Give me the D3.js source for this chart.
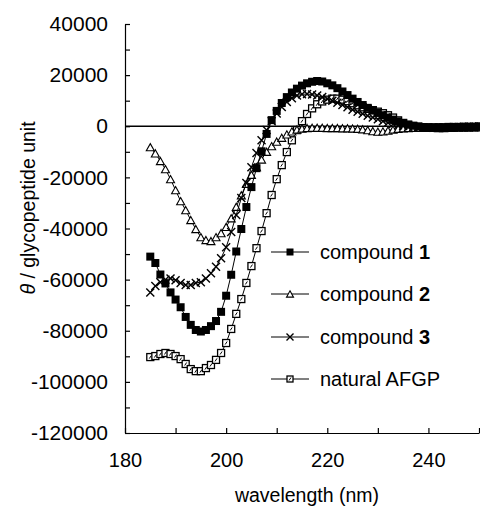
<html>
<head>
<style>
  body { margin: 0; background: #fff; }
  text { font-family: "Liberation Sans", Arial, Helvetica, sans-serif; fill: #000; }
</style>
</head>
<body>
<svg id="chart" width="480" height="506"></svg>
<script src="https://cdn.jsdelivr.net/npm/d3@7"></script>
<script>
// wavelengths (nm), one reading every 1 nm
const wavelength = [185,186,187,188,189,190,191,192,193,194,195,196,197,198,199,200,
  201,202,203,204,205,206,207,208,209,210,211,212,213,214,215,216,217,218,219,220,
  221,222,223,224,225,226,227,228,229,230,231,232,233,234,235,236,237,238,239,240,
  241,242,243,244,245,246,247,248,249,250]

const compound1 = [-51000,-53500,-58000,-61500,-65000,-67800,-70800,-74600,-77700,-79700,
  -80300,-79700,-78200,-76200,-72600,-66300,-58100,-49000,-40200,-31600,
  -23800,-16400,-9800,-3000,2400,6000,9100,11400,13200,14700,
  15900,16800,17400,17700,17500,16800,16000,14900,13600,12200,
  10800,9500,8300,7200,6200,5200,4300,3400,2600,1900,
  1200,600,200,-100,-300,-400,-500,-600,-600,-500,
  -500,-400,-400,-300,-300,-200]

const compound2 = [-8200,-10600,-13600,-16800,-20700,-25000,-29300,-32800,-36700,-40200,
  -43400,-44500,-44900,-43400,-41800,-39400,-36000,-31500,-27000,-22500,
  -19000,-16000,-13000,-10000,-7800,-6000,-4500,-3200,-2000,-1300,
  -900,-700,-600,-600,-600,-700,-700,-700,-800,-800,
  -900,-1000,-1200,-1500,-1900,-2100,-2000,-1700,-1300,-1000,
  -800,-700,-600,-600,-600,-600,-600,-700,-700,-600,
  -600,-500,-500,-500,-400,-400]

const compound3 = [-65000,-62500,-61000,-60000,-59600,-60200,-61300,-62100,-62100,-61300,
  -61000,-59600,-57500,-55000,-51600,-47300,-41400,-34700,-28100,-22200,
  -16000,-10500,-5500,-1500,2000,5000,7500,9500,11000,12000,
  12500,12600,12400,12000,11400,10800,10000,9200,8300,7400,
  6500,5700,4900,4100,3400,2700,2000,1400,900,400,
  100,-200,-300,-400,-500,-500,-600,-600,-500,-500,
  -400,-400,-300,-300,-300,-200]

const afgp = [-90300,-89900,-89100,-88700,-89100,-89900,-91100,-93000,-95000,-95800,
  -95800,-94600,-93400,-91400,-88700,-84800,-79300,-73400,-67600,-61300,
  -54700,-47700,-41000,-34000,-26900,-20700,-15200,-10100,-5500,-1500,
  2000,4800,7000,8600,9700,10400,10800,10800,10400,9800,
  9000,8200,7400,6800,6300,5700,5100,4300,3400,2300,
  1300,600,100,-200,-400,-500,-500,-400,-400,-300,
  -300,-300,-200,-200,-200,-100]

const seriesNames = ["compound", "compound", "compound", "natural AFGP"]
const seriesNums = ["1", "2", "3", ""]
const markers = ["filledSquare", "triangle", "cross", "openSquare"]

const yTicks = d3.range(-120000, 40001, 10000)
const xTicks = [180, 190, 200, 210, 220, 230, 240, 250]

let svg = d3.select("#chart")

let x = d3.scaleLinear().domain([180, 250]).range([125, 479])
let y = d3.scaleLinear().domain([-120000, 40000]).range([433, 24])

// axes, ticks pointing inwards
let yAxis = d3.axisLeft(y)
  .tickValues(yTicks)
  .tickSizeInner(-5)
  .tickSizeOuter(0)
  .tickPadding(17)
  .tickFormat(d => d % 20000 === 0 ? String(d) : "")

svg.append("g")
  .attr("transform", "translate(125,0)")
  .call(yAxis)
  .call(g => g.selectAll("text").style("font-size", "21px"))
  .call(g => g.selectAll("path,line").attr("stroke", "#000").attr("stroke-width", 1.2))

let xAxis = d3.axisBottom(x)
  .tickValues(xTicks)
  .tickSizeInner(-5)
  .tickSizeOuter(0)
  .tickPadding(20)
  .tickFormat(d => d % 20 === 0 && d < 250 ? d : "")

svg.append("g")
  .attr("transform", "translate(0,433)")
  .call(xAxis)
  .call(g => g.selectAll("text").style("font-size", "20px"))
  .call(g => g.selectAll("path,line").attr("stroke", "#000").attr("stroke-width", 1.2))

// zero line
svg.append("line")
  .attr("x1", x(180)).attr("x2", x(250))
  .attr("y1", y(0)).attr("y2", y(0))
  .attr("stroke", "#000").attr("stroke-width", 1.5)

// axis titles
svg.append("text")
  .attr("x", 307).attr("y", 502)
  .attr("text-anchor", "middle")
  .style("font-size", "19.5px")
  .text("wavelength (nm)")

let yTitle = svg.append("text")
  .attr("transform", "translate(35,208) rotate(-90)")
  .attr("text-anchor", "middle")
  .style("font-size", "19.5px")
yTitle.append("tspan").style("font-style", "italic").text("θ")
yTitle.append("tspan").text(" / glycopeptide unit")

// marker drawing
function drawMarker(g, type, s) {
  if (type === "filledSquare") {
    g.append("rect").attr("x", -s / 2).attr("y", -s / 2).attr("width", s).attr("height", s)
      .attr("fill", "#000")
  } else if (type === "openSquare") {
    g.append("rect").attr("x", -s / 2).attr("y", -s / 2).attr("width", s).attr("height", s)
      .attr("fill", "#fff").attr("stroke", "#000").attr("stroke-width", 1.3)
    g.append("line").attr("x1", -1).attr("y1", 1.5).attr("x2", 1).attr("y2", -1.5)
      .attr("stroke", "#000").attr("stroke-width", 1)
  } else if (type === "triangle") {
    let h = s * 0.9
    g.append("path")
      .attr("d", `M0,${-h / 2}L${s / 2},${h / 2}L${-s / 2},${h / 2}Z`)
      .attr("fill", "#fff").attr("stroke", "#000").attr("stroke-width", 1.1)
  } else if (type === "cross") {
    let r = s / 2
    g.append("path")
      .attr("d", `M${-r},${-r}L${r},${r}M${-r},${r}L${r},${-r}`)
      .attr("stroke", "#000").attr("stroke-width", 1.4).attr("fill", "none")
  }
}

let allSeries = [compound1, compound2, compound3, afgp]
let markerSize = [8, 8, 8, 7]
let drawOrder = [3, 1, 2, 0]

let line = d3.line()
  .x((d, i) => x(wavelength[i]))
  .y(d => y(d))

for (let k of drawOrder) {
  let values = allSeries[k]
  svg.append("path")
    .datum(values)
    .attr("d", line)
    .attr("fill", "none")
    .attr("stroke", "#000")
    .attr("stroke-width", 1)

  svg.append("g").selectAll("g")
    .data(values)
    .enter().append("g")
    .attr("transform", (d, i) => `translate(${x(wavelength[i])},${y(d)})`)
    .each(function () { drawMarker(d3.select(this), markers[k], markerSize[k]) })
}

// legend
let legendY = [252, 294, 337, 379]
let legend = svg.append("g")
for (let k = 0; k < 4; k++) {
  let row = legend.append("g").attr("transform", `translate(0,${legendY[k]})`)
  row.append("line").attr("x1", 271).attr("x2", 309).attr("y1", 0).attr("y2", 0)
    .attr("stroke", "#000").attr("stroke-width", 1)
  let m = row.append("g").attr("transform", "translate(290,0)")
  drawMarker(m, markers[k], k === 3 ? 6 : 7)
  let t = row.append("text").attr("x", 320).attr("y", 7).style("font-size", "20px")
  t.append("tspan").text(seriesNames[k])
  if (seriesNums[k]) t.append("tspan").style("font-weight", "bold").text(" " + seriesNums[k])
}
</script>
</body>
</html>
